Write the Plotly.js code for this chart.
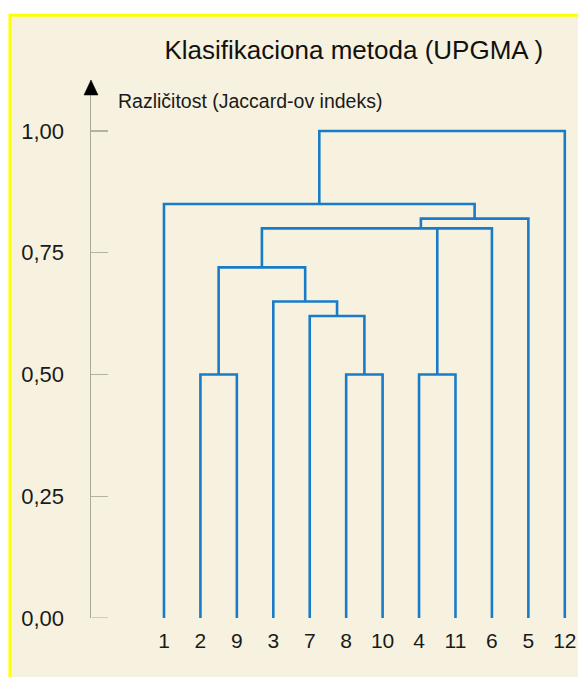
<!DOCTYPE html>
<html>
<head>
<meta charset="utf-8">
<script src="https://cdn.plot.ly/plotly-3.0.1.min.js"></script>
<style>html,body{margin:0;padding:0;background:#fff;}#chart{width:578px;height:677px;}</style>
</head>
<body>
<div id="chart"></div>
<script>
// Leaf order along the x axis
const leafLabels = ['1','2','9','3','7','8','10','4','11','6','5','12'];
const leafPositions = [0,1,2,3,4,5,6,7,8,9,10,11];

// Dendrogram links (leaf-position units / Jaccard dissimilarity)
const linkX = [
  [1, 1, 2, 2],
  [5, 5, 6, 6],
  [7, 7, 8, 8],
  [4, 4, 5.5, 5.5],
  [3, 3, 4.75, 4.75],
  [1.5, 1.5, 3.875, 3.875],
  [7.5, 7.5, 9, 9],
  [2.6875, 2.6875, 7.5, 7.5],
  [7.05, 7.05, 10, 10],
  [0, 0, 8.525, 8.525],
  [4.2625, 4.2625, 11, 11]
];
const linkY = [
  [0, 0.50, 0.50, 0],
  [0, 0.50, 0.50, 0],
  [0, 0.50, 0.50, 0],
  [0, 0.62, 0.62, 0.50],
  [0, 0.65, 0.65, 0.62],
  [0.50, 0.72, 0.72, 0.65],
  [0.50, 0.80, 0.80, 0],
  [0.72, 0.80, 0.80, 0.80],
  [0.80, 0.82, 0.82, 0],
  [0, 0.85, 0.85, 0.82],
  [0.85, 1.00, 1.00, 0]
];

// Y axis ticks
const yTickVals = [0, 0.25, 0.5, 0.75, 1.0];
const yTickText = ['0,00', '0,25', '0,50', '0,75', '1,00'];

const titleText = 'Klasifikaciona metoda (UPGMA )';
const yLabelText = 'Različitost (Jaccard-ov indeks)';

const xs = [], ys = [];
linkX.forEach((lx, i) => {
  xs.push(...lx, null);
  ys.push(...linkY[i], null);
});

const trace = {
  x: xs, y: ys, type: 'scatter', mode: 'lines',
  line: {color: '#1a7bc9', width: 2.6},
  hoverinfo: 'skip', showlegend: false
};

const font = 'Liberation Sans, Arial, sans-serif';

const layout = {
  width: 578, height: 677,
  margin: {l: 91, r: 3, t: 80, b: 59},
  paper_bgcolor: '#ffffff',
  plot_bgcolor: 'rgba(0,0,0,0)',
  font: {family: font, color: '#1a1a1a'},
  title: {
    text: titleText,
    font: {family: font, size: 26, color: '#111'},
    x: 0.543, xanchor: 'center', xref: 'paper',
    y: 0.927, yanchor: 'middle', yref: 'container'
  },
  xaxis: {
    range: [-2.003, 11.28],
    tickvals: leafPositions, ticktext: leafLabels,
    showgrid: false, zeroline: false, showline: false, ticks: '',
    tickfont: {family: font, size: 21, color: '#1a1a1a'},
    ticklabelstandoff: 8,
    fixedrange: true
  },
  yaxis: {
    range: [0, 1.1047],
    tickvals: yTickVals, ticktext: yTickText,
    showgrid: false, zeroline: false,
    showline: true, linecolor: '#aaa99c', linewidth: 1.5,
    ticks: 'inside', ticklen: 17, tickwidth: 1.5, tickcolor: '#b4b3a2',
    tickfont: {family: font, size: 22, color: '#1a1a1a'},
    ticklabelstandoff: 21,
    fixedrange: true
  },
  shapes: [
    {type: 'rect', xref: 'paper', yref: 'paper', layer: 'below',
     x0: -0.1674, x1: 1.1, y0: -0.2, y1: 1.1205,
     fillcolor: '#f6f2df', line: {color: '#ffff00', width: 3}},
    {type: 'path', xref: 'paper', yref: 'paper',
     xsizemode: 'pixel', ysizemode: 'pixel', xanchor: 0, yanchor: 1,
     path: 'M -7 -15 L 7 -15 L 0 0 Z',
     fillcolor: '#000000', line: {color: '#000000', width: 0.5}},
    {type: 'line', xref: 'paper', yref: 'y',
     x0: 0.002, x1: 0.035, y0: 0, y1: 0,
     line: {color: '#c9c6ee', width: 2}}
  ],
  annotations: [
    {text: yLabelText, xref: 'paper', yref: 'paper',
     x: 0.0517, xanchor: 'left', y: 0.961, yanchor: 'middle',
     showarrow: false, font: {family: font, size: 19.5, color: '#1a1a1a'}}
  ]
};

Plotly.newPlot('chart', [trace], layout, {displayModeBar: false, staticPlot: true});
</script>
</body>
</html>
